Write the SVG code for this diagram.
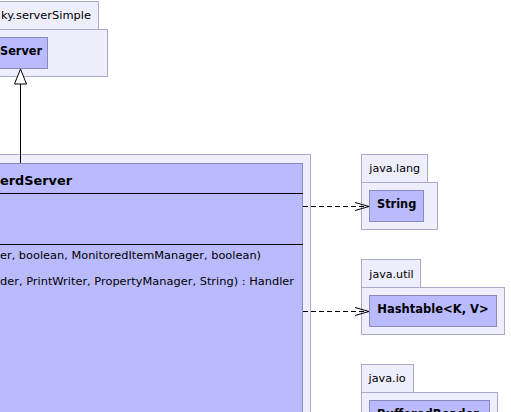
<svg xmlns="http://www.w3.org/2000/svg" width="511" height="412" viewBox="0 0 511 412">
<style>
.pkg{fill:#eeeefd;stroke:#a9a9c9;stroke-width:1}
.cls{fill:#babbff;stroke:#8a8abd;stroke-width:1}
.t{font-family:"DejaVu Sans",sans-serif;fill:#000}
.pt{font-size:11px}
.ct{font-size:11.5px;font-weight:bold}
.tt{font-size:13px;font-weight:bold}
.mt{font-size:11.3px}
.sep{stroke:#000;stroke-width:1}
.dep{fill:none;stroke:#000;stroke-width:1;stroke-dasharray:5,3}
.head{fill:none;stroke:#000;stroke-width:1}
</style>
<rect width="511" height="412" fill="#fff"/>
<g id="pkg-serverSimple">
<rect class="pkg" x="-10.5" y="1.5" width="109" height="28"/>
<rect class="pkg" x="-10.5" y="29.5" width="118" height="47"/>
<text class="t pt" x="1" y="19" textLength="90" lengthAdjust="spacingAndGlyphs">ky.serverSimple</text>
</g>
<g id="Server">
<rect class="cls" x="-10.5" y="37.5" width="58" height="31"/>
<text class="t ct" x="0" y="55" textLength="42" lengthAdjust="spacingAndGlyphs">Server</text>
</g>
<g id="pkg-outer">
<rect class="pkg" x="-10.5" y="154.5" width="321" height="270"/>
</g>
<g id="MonitoredServer">
<rect class="cls" x="-10.5" y="163.5" width="313" height="260"/>
<line class="sep" x1="-10" y1="193.5" x2="303" y2="193.5"/>
<line class="sep" x1="-10" y1="244.5" x2="303" y2="244.5"/>
<text class="t tt" x="0" y="184.5" textLength="72" lengthAdjust="spacingAndGlyphs">erdServer</text>
<text class="t mt" x="0" y="258.5" textLength="261" lengthAdjust="spacingAndGlyphs">er, boolean, MonitoredItemManager, boolean)</text>
<text class="t mt" x="0" y="285" textLength="294" lengthAdjust="spacingAndGlyphs">der, PrintWriter, PropertyManager, String) : Handler</text>
</g>
<g id="pkg-java-lang">
<rect class="pkg" x="361.5" y="154.5" width="66" height="28"/>
<rect class="pkg" x="361.5" y="182.5" width="76" height="47"/>
<text class="t pt" x="369.3" y="172.3" textLength="50.7" lengthAdjust="spacingAndGlyphs">java.lang</text>
</g>
<g id="String">
<rect class="cls" x="369.5" y="190.5" width="54" height="31"/>
<text class="t ct" x="377" y="208" textLength="39.3" lengthAdjust="spacingAndGlyphs">String</text>
</g>
<g id="pkg-java-util">
<rect class="pkg" x="361.5" y="259.5" width="59" height="28"/>
<rect class="pkg" x="361.5" y="287.5" width="143" height="47"/>
<text class="t pt" x="369.3" y="277.5" textLength="44.4" lengthAdjust="spacingAndGlyphs">java.util</text>
</g>
<g id="Hashtable">
<rect class="cls" x="369.5" y="295.5" width="127" height="31"/>
<text class="t ct" x="377.3" y="313" textLength="111.4" lengthAdjust="spacingAndGlyphs">Hashtable&lt;K, V&gt;</text>
</g>
<g id="pkg-java-io">
<rect class="pkg" x="361.5" y="364.5" width="52" height="28"/>
<rect class="pkg" x="361.5" y="392.5" width="136" height="47"/>
<text class="t pt" x="368.5" y="382.3" textLength="37.2" lengthAdjust="spacingAndGlyphs">java.io</text>
</g>
<g id="BufferedReader">
<rect class="cls" x="369.5" y="400.5" width="120" height="31"/>
<text class="t ct" x="377" y="418">BufferedReader</text>
</g>
<g id="connectors">
<line class="head" x1="20.5" y1="84" x2="20.5" y2="163"/>
<polygon points="20.5,69 14.5,84 26.5,84" fill="#fff" stroke="#000" stroke-width="1"/>
<line class="dep" x1="303" y1="206.5" x2="368" y2="206.5"/>
<polyline class="head" points="355,202.5 369,206.5 355,210.5"/>
<line class="dep" x1="303" y1="311.5" x2="368" y2="311.5"/>
<polyline class="head" points="355,307.5 369,311.5 355,315.5"/>
</g>
</svg>
